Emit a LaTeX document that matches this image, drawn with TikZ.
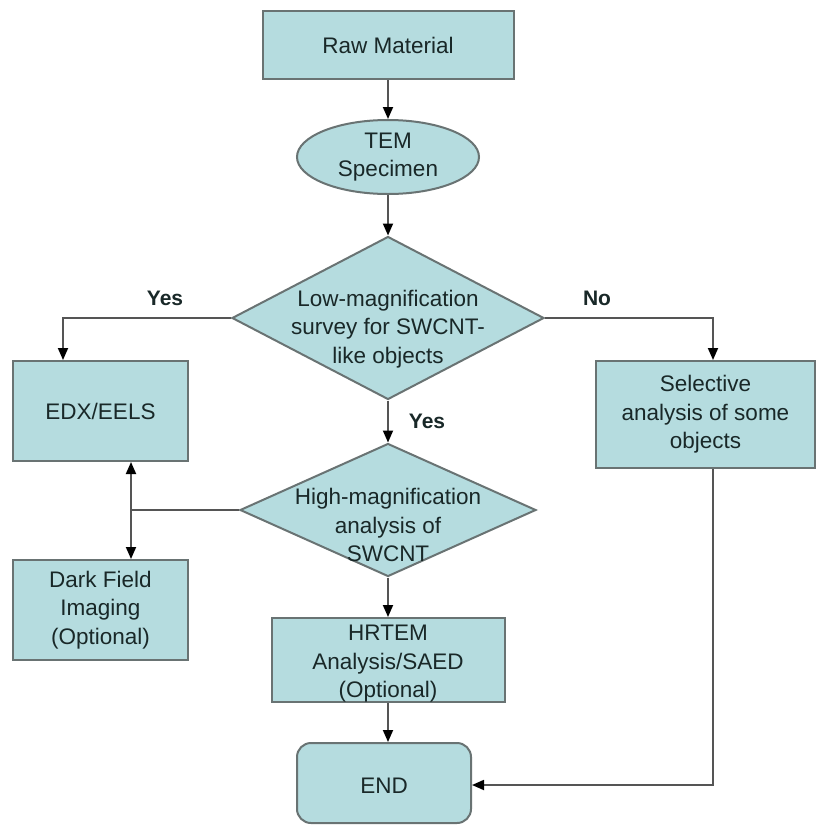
\documentclass[tikz,border=0pt]{standalone}
\usepackage{fontspec}
\setmainfont{Liberation Sans}
\usetikzlibrary{shapes.geometric,arrows.meta}
\definecolor{boxfill}{RGB}{181,220,223}
\definecolor{boxline}{RGB}{105,115,115}
\definecolor{conn}{RGB}{85,85,85}
\definecolor{txt}{RGB}{25,40,40}
\tikzset{
  every node/.style={font=\fontsize{22.5}{28.5}\selectfont, text=txt},
  box/.style={draw=boxline, line width=2pt, fill=boxfill, align=center, inner sep=0pt},
  rectbox/.style={box, rectangle},
  ellbox/.style={box, ellipse},
  dia/.style={box, diamond},
  endbox/.style={box, rectangle, rounded corners=14pt},
  conn/.style={draw=conn, line width=1.8pt},
  arr/.style={conn, -{Triangle[length=12pt,width=10pt,color=black]}, >={Triangle[length=12pt,width=10pt,color=black]}},
  lbl/.style={font=\fontsize{21}{25}\selectfont\bfseries, text=txt}
}
\begin{document}
\begin{tikzpicture}[x=1pt,y=-1pt]
\useasboundingbox[fill=white] (0,0) rectangle (816,825);

\node[rectbox, minimum width=251pt, minimum height=68pt] (raw) at (388,45) {Raw Material};
\node[ellbox, minimum width=182pt, minimum height=74pt] (tem) at (388,157) {TEM\\Specimen};
\node[dia, minimum width=312pt, minimum height=163pt,
      label={[align=center, yshift=-11pt]center:Low-magnification\\survey for SWCNT-\\like objects}] (low) at (388,318) {};
\node[rectbox, minimum width=175pt, minimum height=100pt] (edx) at (100.5,411) {EDX/EELS};
\node[rectbox, minimum width=219pt, minimum height=107pt] (sel) at (705.5,414.5) {Selective\\analysis of some\\objects};
\node[dia, minimum width=296pt, minimum height=133pt,
      label={[align=center, yshift=-15pt]center:High-magnification\\analysis of\\SWCNT}] (high) at (388,510) {};
\node[rectbox, minimum width=175pt, minimum height=100pt] (dark) at (100.5,610) {Dark Field\\Imaging\\(Optional)};
\node[rectbox, minimum width=233pt, minimum height=84pt,
      label={[align=center, yshift=-4pt]center:HRTEM\\Analysis/SAED\\(Optional)}] (hrtem) at (388,660) {};
\node[endbox, minimum width=174pt, minimum height=80pt] (end) at (384,783) {};
\node (endtxt) at (384,786) {END};

\node[lbl] (yes1) at (165,298) {Yes};
\node[lbl] (no1) at (597,298) {No};
\node[lbl] (yes2) at (427,421) {Yes};

\coordinate (cl) at (63,318);
\coordinate (cr) at (713,318);
\coordinate (ch) at (131,510);
\coordinate (cs) at (713,785);

\draw[arr] (raw.south) -- (tem.north);
\draw[arr] (tem.south) -- (low.north);
\draw[arr] (low.west) -- (cl) -- (cl |- edx.north);
\draw[arr] (low.east) -- (cr) -- (cr |- sel.north);
\draw[arr] (low.south) -- (high.north);
\draw[conn] (high.west) -- (ch);
\draw[arr, <->] (ch |- edx.south) -- (ch |- dark.north);
\draw[arr] (high.south) -- (hrtem.north);
\draw[arr] (hrtem.south) -- (hrtem.south |- end.north);
\draw[arr] (cs |- sel.south) -- (cs) -- (end.east |- cs);
\end{tikzpicture}
\end{document}
